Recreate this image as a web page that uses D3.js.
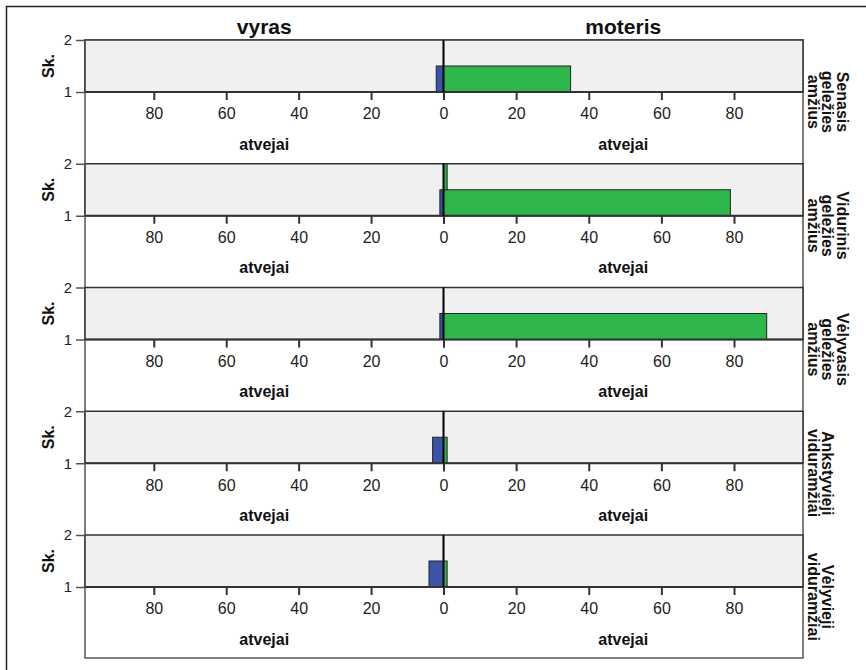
<!DOCTYPE html>
<html>
<head>
<meta charset="utf-8">
<script src="https://cdn.jsdelivr.net/npm/d3@7"></script>
<style>
  html, body { margin: 0; padding: 0; background: #fff; }
  svg { display: block; font-family: "Liberation Sans", Arial, sans-serif; }
</style>
</head>
<body>
<svg id="chart" width="866" height="670"></svg>
<script>
// ---- data ----
const periods = [
  ["Senasis", "geležies", "amžius"],
  ["Vidurinis", "geležies", "amžius"],
  ["Vėlyvasis", "geležies", "amžius"],
  ["Ankstyvieji", "viduramžiai"],
  ["Vėlyvieji", "viduramžiai"]
];
const sexes = ["vyras", "moteris"];
const skLevels = [1, 2];
const maleSk1   = [2, 1, 1, 3, 4];
const maleSk2   = [0, 0, 0, 0, 0];
const femaleSk1 = [35, 79, 89, 1, 1];
const femaleSk2 = [0, 1, 0, 0, 0];
const xTicks = [0, 20, 40, 60, 80];
const xMax = 99;
const xTitle = "atvejai";
const yTitle = "Sk.";

// ---- layout ----
const svg = d3.select("#chart");
const innerLeft = 85, zeroX = 443.5, innerRight = 803;
const top0 = 40, rowStep = 123.75, bandH = 52, frameBottom = 658;
const blue = "#3A55A8", green = "#2DB74B";

const xL = d3.scaleLinear().domain([0, xMax]).range([zeroX, innerLeft]);
const xR = d3.scaleLinear().domain([0, xMax]).range([zeroX, innerRight]);

// outer frame
svg.append("rect").attr("x", 6.5).attr("y", 6.5).attr("width", 900).attr("height", 700)
  .attr("fill", "none").attr("stroke", "#222").attr("stroke-width", 1.5);

// inner frame
svg.append("rect").attr("x", innerLeft).attr("y", top0)
  .attr("width", innerRight - innerLeft).attr("height", frameBottom - top0)
  .attr("fill", "none").attr("stroke", "#555").attr("stroke-width", 1.5);

// panel titles
svg.selectAll("text.ptitle").data(sexes).enter().append("text")
  .attr("class", "ptitle")
  .attr("x", (d, i) => i === 0 ? (innerLeft + zeroX) / 2 : (zeroX + innerRight) / 2)
  .attr("y", 34)
  .attr("text-anchor", "middle")
  .attr("font-size", 21).attr("font-weight", "bold").attr("fill", "#111")
  .text(d => d);

periods.forEach((lines, r) => {
  const top = top0 + r * rowStep;
  const g = svg.append("g");
  const y = d3.scaleLinear().domain([1, 2]).range([top + bandH, top]);

  // band
  g.append("rect").attr("x", innerLeft).attr("y", top)
    .attr("width", innerRight - innerLeft).attr("height", bandH)
    .attr("fill", "#F0F0F0").attr("stroke", "#333").attr("stroke-width", 1.5);

  // bars
  const bars = [
    { side: "m", sk: 1, v: maleSk1[r] },
    { side: "m", sk: 2, v: maleSk2[r] },
    { side: "f", sk: 1, v: femaleSk1[r] },
    { side: "f", sk: 2, v: femaleSk2[r] }
  ].filter(d => d.v > 0);
  g.selectAll("rect.bar").data(bars).enter().append("rect")
    .attr("class", "bar")
    .attr("x", d => d.side === "m" ? xL(d.v) : xR(0))
    .attr("width", d => d.side === "m" ? xL(0) - xL(d.v) : xR(d.v) - xR(0))
    .attr("y", d => d.sk === 1 ? y(1.5) : y(2))
    .attr("height", d => y(1) - y(1.5))
    .attr("fill", d => d.side === "m" ? blue : green)
    .attr("stroke", "#222").attr("stroke-width", 1);

  // x axes
  const axL = g.append("g").attr("transform", `translate(0,${top + bandH})`)
    .call(d3.axisBottom(xL).tickValues(xTicks).tickSize(8).tickSizeOuter(0).tickPadding(8).tickFormat(d3.format("d")));
  const axR = g.append("g").attr("transform", `translate(0,${top + bandH})`)
    .call(d3.axisBottom(xR).tickValues(xTicks).tickSize(8).tickSizeOuter(0).tickPadding(8).tickFormat(d3.format("d")));
  [axL, axR].forEach(ax => {
    ax.select(".domain").remove();
    ax.selectAll(".tick line").attr("stroke", "#333").attr("stroke-width", 2);
    ax.selectAll(".tick text").attr("font-size", 16).attr("fill", "#222")
      .attr("font-family", "'Liberation Sans', Arial, sans-serif");
  });
  axR.selectAll(".tick").filter(d => d === 0).select("text").remove();

  // axis line
  g.append("line").attr("x1", innerLeft).attr("x2", innerRight)
    .attr("y1", top + bandH).attr("y2", top + bandH)
    .attr("stroke", "#333").attr("stroke-width", 2);

  // zero line
  g.append("line").attr("x1", zeroX).attr("x2", zeroX)
    .attr("y1", top).attr("y2", top + bandH)
    .attr("stroke", "#000").attr("stroke-width", 2);

  // y axis
  const ay = g.append("g").attr("transform", `translate(${innerLeft},0)`)
    .call(d3.axisLeft(y).tickValues(skLevels).tickSize(9).tickSizeOuter(0).tickPadding(4).tickFormat(d3.format("d")));
  ay.select(".domain").remove();
  ay.selectAll(".tick line").attr("stroke", "#555").attr("stroke-width", 1.5);
  ay.selectAll(".tick text").attr("font-size", 15).attr("fill", "#222")
    .attr("font-family", "'Liberation Sans', Arial, sans-serif");

  // y title
  g.append("text")
    .attr("transform", `translate(48,${top + bandH / 2}) rotate(-90)`)
    .attr("text-anchor", "middle").attr("dominant-baseline", "central")
    .attr("font-size", 16).attr("font-weight", "bold").attr("fill", "#111")
    .text(yTitle);

  // x titles
  [(innerLeft + zeroX) / 2, (zeroX + innerRight) / 2].forEach(cx => {
    g.append("text").attr("x", cx).attr("y", top + 104)
      .attr("text-anchor", "middle").attr("dominant-baseline", "central")
      .attr("font-size", 16).attr("font-weight", "bold").attr("fill", "#111")
      .text(xTitle);
  });

  // strip label
  const n = lines.length;
  const cy = top + rowStep / 2;
  lines.forEach((ln, i) => {
    const cx = 813 + (n - 1 - i) * 14.5;
    g.append("text")
      .attr("transform", `translate(${cx},${cy}) rotate(90)`)
      .attr("text-anchor", "middle").attr("dominant-baseline", "central")
      .attr("font-size", 16).attr("font-weight", "bold").attr("fill", "#111")
      .text(ln);
  });
});
</script>
</body>
</html>
